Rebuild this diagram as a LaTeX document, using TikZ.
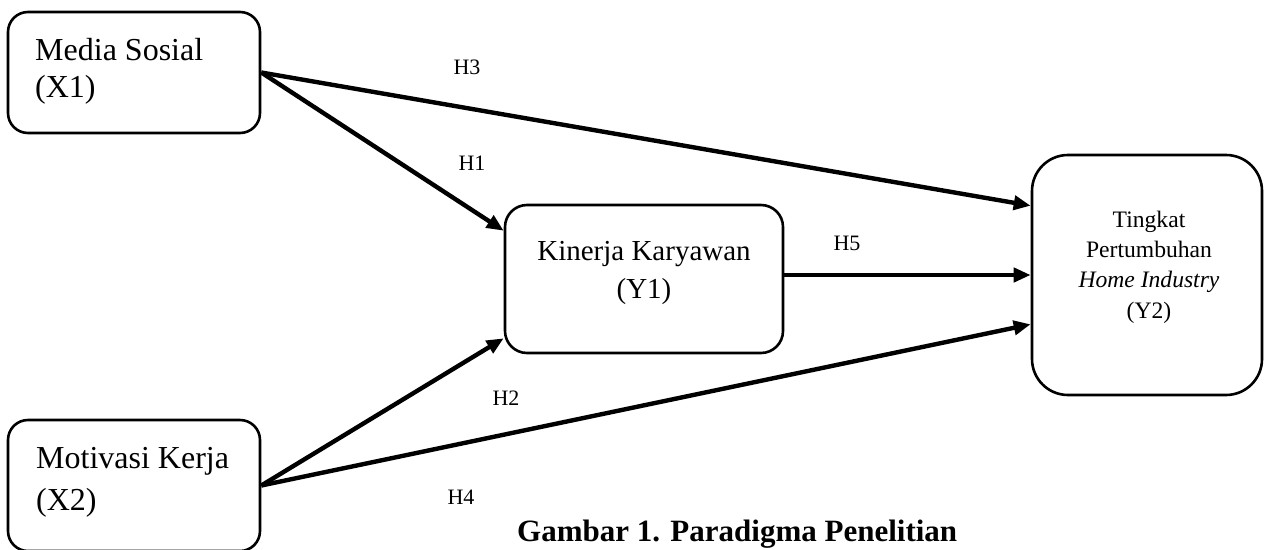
\documentclass[tikz,border=0pt]{standalone}
\usepackage{fontspec}
\setmainfont{Liberation Serif}
\usetikzlibrary{arrows.meta,calc}
\begin{document}
\begin{tikzpicture}[x=1pt,y=-1pt,
  box/.style={draw,line width=2.6pt,inner sep=0pt},
  conn/.style={line width=4.4pt,-{Triangle[length=17pt,width=14pt]}},
  lbl/.style={font=\fontsize{22}{26}\selectfont,inner sep=0pt,anchor=base},
  txt/.style={inner sep=0pt}]
\useasboundingbox (0,0) rectangle (1265,549);
% boxes
\node[box,rounded corners=20pt,minimum width=252pt,minimum height=121pt] (x1) at (134,72.5) {};
\node[box,rounded corners=20pt,minimum width=252pt,minimum height=131pt] (x2) at (134,485.5) {};
\node[box,rounded corners=22pt,minimum width=278pt,minimum height=148pt] (y1) at (644,279) {};
\node[box,rounded corners=36pt,minimum width=230pt,minimum height=240pt] (y2) at (1147,275) {};
% texts (anchor base = baseline of the last line)
\node[txt,anchor=base west,align=left,font=\fontsize{32}{37}\selectfont] (x1t) at (35,97) {Media Sosial\\(X1)};
\node[txt,anchor=base west,align=left,font=\fontsize{32}{42}\selectfont] (x2t) at (36,510) {Motivasi Kerja\\(X2)};
\node[txt,anchor=base,align=center,font=\fontsize{29}{38}\selectfont] (y1t) at (644,298) {Kinerja Karyawan\\(Y1)};
\node[txt,anchor=base,align=center,font=\fontsize{23.6}{30.3}\selectfont] (y2t) at (1149,318) {Tingkat\\Pertumbuhan\\\textit{Home Industry}\\(Y2)};
% connectors
\draw[conn] (x1.east) -- ($(y2.north west)+(0,52)$);
\draw[conn] (x1.east) -- ($(y1.north west)+(0,27)$);
\draw[conn] (y1.east |- y2.west) -- (y2.west);
\draw[conn] (x2.east) -- ($(y1.south west)+(0,-16)$);
\draw[conn] (x2.east) -- ($(y2.south west)+(0,-72)$);
% labels
\node[lbl] (h3) at (467,74) {H3};
\node[lbl] (h1) at (472,170) {H1};
\node[lbl] (h5) at (847,250) {H5};
\node[lbl] (h2) at (506,405) {H2};
\node[lbl] (h4) at (461,504) {H4};
% caption
\node[txt,anchor=base west,font=\fontsize{31}{36}\selectfont\bfseries] (cap) at (517,541) {Gambar 1. Paradigma Penelitian};
\end{tikzpicture}
\end{document}
